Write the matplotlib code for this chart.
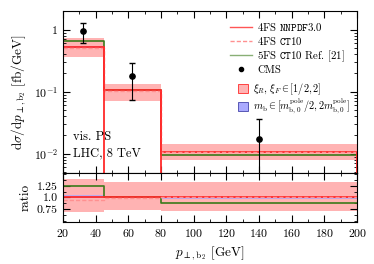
import numpy as np
import matplotlib
matplotlib.use("Agg")
import matplotlib.pyplot as plt
from matplotlib.patches import Patch
from matplotlib.lines import Line2D
from matplotlib.ticker import FuncFormatter

plt.rcParams["font.family"] = "serif"
plt.rcParams["font.serif"] = ["cmr10"]
plt.rcParams["mathtext.fontset"] = "cm"
plt.rcParams["axes.formatter.use_mathtext"] = True
plt.rcParams["font.size"] = 8.5

# bins in p_perp,b2 [GeV]
edges = [20, 45, 80, 200]

# main panel [fb/GeV]
nnpdf = [0.52, 0.105, 0.0107]
ct10 = [0.51, 0.104, 0.0108]
ct10_5fs = [0.66, 0.106, 0.0097]
scale_lo = [0.37, 0.072, 0.0080]
scale_hi = [0.73, 0.134, 0.0145]
mass_lo = [0.515, 0.104, 0.0104]
mass_hi = [0.555, 0.107, 0.0108]

# CMS data
cms_x = [32.5, 62.5, 140]
cms_y = [0.96, 0.18, 0.0175]
cms_lo = [0.62, 0.074, 0.001]
cms_hi = [1.3, 0.29, 0.036]

# ratio panel
r_ct10 = [0.95, 0.99, 1.01]
r_5fs = [1.25, 1.01, 0.89]
r_scale_lo = [0.69, 0.72, 0.70]
r_scale_hi = [1.40, 1.33, 1.33]
r_mass_lo = [0.99, 0.98, 0.96]
r_mass_hi = [1.06, 1.01, 1.01]

red = "#ff2a2a"
pink = "#ff9090"
green = "#3a7a1a"
band_red = "#ffb3b3"
band_blue = "#aaaaff"


def step(vals):
    return list(vals) + [vals[-1]]


def logfmt(v, pos):
    e = int(round(np.log10(v)))
    return "1" if e == 0 else r"$10^{%d}$" % e


fig = plt.figure(figsize=(3.74, 2.64), dpi=100)
ax = fig.add_axes([0.168, 0.345, 0.787, 0.613])
axr = fig.add_axes([0.168, 0.159, 0.787, 0.186], sharex=ax)

ax.fill_between(edges, step(scale_lo), step(scale_hi), step="post", color=band_red, lw=0)
ax.fill_between(edges, step(mass_lo), step(mass_hi), step="post", color=band_blue, lw=0, alpha=0.8)
ax.step(edges, step(ct10_5fs), where="post", color=green, lw=1.2)
ax.step(edges, step(nnpdf), where="post", color=red, lw=1.3)
ax.step(edges, step(ct10), where="post", color=pink, lw=1.0, ls=(0, (3, 1.5)))
ax.vlines(edges, 1e-4, [ct10_5fs[0], max(nnpdf[0], nnpdf[1]), nnpdf[1], nnpdf[2]],
          color=[green, red, red, red], lw=1.3)
yerr = [np.array(cms_y) - np.array(cms_lo), np.array(cms_hi) - np.array(cms_y)]
ax.errorbar(cms_x, cms_y, yerr=yerr, fmt="o", color="black", ms=3.8, lw=0.8, capsize=2.2)

ax.set_yscale("log")
ax.set_ylim(0.0049, 2.0)
ax.set_xlim(20, 200)
ax.yaxis.set_major_formatter(FuncFormatter(logfmt))
ax.set_ylabel(r"$\mathrm{d}\sigma/\mathrm{d}p_{\perp,\mathrm{b}_2}$ [fb/GeV]", fontsize=9.5)
ax.text(26, 0.0165, "vis. PS", fontsize=9)
ax.text(26, 0.0089, "LHC, 8 TeV", fontsize=9)

h1 = [Line2D([], [], color=red, lw=1.0, alpha=0.8),
      Line2D([], [], color=pink, lw=1.0, ls=(0, (3, 1.5))),
      Line2D([], [], color=green, lw=1.0, alpha=0.6),
      Line2D([], [], color="black", marker="o", ms=3, ls="none")]
l1 = ["4FS $\\mathtt{NNPDF3.0}$", "4FS $\\mathtt{CT10}$", "5FS $\\mathtt{CT10}$ Ref. [21]", "CMS"]
leg1 = ax.legend(h1, l1, loc="upper right", frameon=False, fontsize=7.8,
                 handlelength=2.0, handletextpad=0.5, labelspacing=0.15,
                 borderaxespad=0.0, bbox_to_anchor=(0.975, 0.965))
ax.add_artist(leg1)
h2 = [Patch(facecolor=band_red, edgecolor=red, lw=0.6),
      Patch(facecolor=band_blue, edgecolor="#4444aa", lw=0.6)]
l2 = [r"$\xi_R,\, \xi_F \in [1/2, 2]$",
      r"$m_\mathrm{b} \in [m_{\mathrm{b},0}^\mathrm{pole}/2, 2m_{\mathrm{b},0}^\mathrm{pole}]$"]
ax.legend(h2, l2, loc="upper right", frameon=False, fontsize=7.4,
          handlelength=1.0, handleheight=1.0, handletextpad=0.5, labelspacing=0.0,
          borderaxespad=0.0, bbox_to_anchor=(0.99, 0.595))

axr.fill_between(edges, step(r_scale_lo), step(r_scale_hi), step="post", color=band_red, lw=0)
axr.fill_between(edges, step(r_mass_lo), step(r_mass_hi), step="post", color=band_blue, lw=0, alpha=0.8)
axr.step(edges, step(r_5fs), where="post", color=green, lw=1.2)
axr.step(edges, step([1.0, 1.0, 1.0]), where="post", color=red, lw=1.3)
axr.step(edges, step(r_ct10), where="post", color=pink, lw=1.0, ls=(0, (3, 1.5)))
axr.set_ylim(0.47, 1.53)
axr.set_yticks([0.75, 1.0, 1.25])
axr.set_yticklabels(["0.75", "1.0", "1.25"])
axr.set_yticks([0.5, 0.625, 0.875, 1.125, 1.375, 1.5], minor=True)
axr.set_ylabel("ratio", fontsize=9.5)
axr.set_xlabel(r"$p_{\perp,\mathrm{b}_2}$ [GeV]", fontsize=9.5)
axr.set_xticks(np.arange(20, 201, 20))
axr.set_xticks(np.arange(30, 200, 20), minor=True)

for a in (ax, axr):
    a.tick_params(which="both", direction="in", top=True, right=True)
    a.tick_params(which="major", length=5, width=0.8)
    a.tick_params(which="minor", length=2.5, width=0.6)
    for s in a.spines.values():
        s.set_linewidth(0.8)
plt.setp(ax.get_xticklabels(), visible=False)

fig.align_ylabels([ax, axr])
fig.savefig("out.png", dpi=100)
